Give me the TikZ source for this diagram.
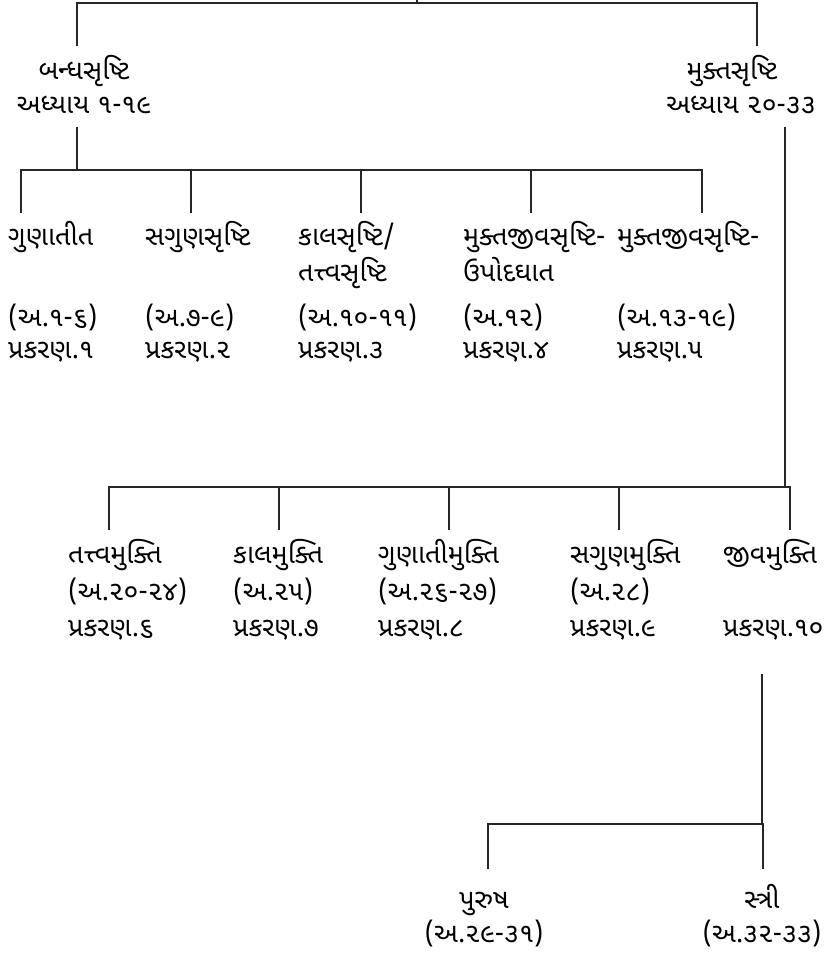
\documentclass[tikz,border=0pt]{standalone}
\usepackage{fontspec}
\newfontfamily\guj[Script=Gujarati]{Noto Sans Gujarati UI}
\begin{document}
\begin{tikzpicture}[x=1pt,y=-1pt,
  ln/.style={line width=1.4pt, draw=black!85, line cap=rect},
  lbl/.style={font=\guj\fontsize{27}{31}\selectfont, inner sep=0pt, anchor=base west},
  clbl/.style={lbl, anchor=base}]
\useasboundingbox (0,0) rectangle (834,960);
% ---------- top level ----------
\node[clbl] (bs1) at (84,80) {બન્ધસૃષ્ટિ};
\node[clbl] (bs2) at (84,114) {અધ્યાય ૧-૧૯};
\node[clbl] (ms1) at (732,80) {મુક્તસૃષ્ટિ};
\node[clbl] (ms2) at (741,114) {અધ્યાય ૨૦-૩૩};
\coordinate (top) at (417,-3);
\coordinate (tbar) at (417,3);
\coordinate (tl) at (77,3);
\coordinate (tr) at (757,3);
\coordinate (tlend) at (77,45);
\coordinate (trend) at (757,45);
\draw[ln] (top) -- (tbar);
\draw[ln] (tlend) -- (tl) -- (tr) -- (trend);
% ---------- row 1 ----------
\coordinate (bsstem) at (77,128);
\coordinate (bsbar) at (77,170);
\draw[ln] (bsstem) -- (bsbar);
\coordinate (r1l) at (21,170);
\coordinate (r1r) at (702,170);
\draw[ln] (r1l) -- (r1r);
\foreach \i/\x in {1/21,2/191,3/361,4/531,5/702}{
  \coordinate (d\i) at (\x,212);
  \draw[ln] (\x,170) -- (d\i);
}
\node[lbl] (a1) at (8,245) {ગુણાતીત};
\node[lbl] (a3) at (8,326) {(અ.૧-૬)};
\node[lbl] (a4) at (8,358) {પ્રકરણ.૧};
\node[lbl] (b1) at (145,245) {સગુણસૃષ્ટિ};
\node[lbl] (b3) at (145,326) {(અ.૭-૯)};
\node[lbl] (b4) at (145,358) {પ્રકરણ.૨};
\node[lbl] (c1) at (298,245) {કાલસૃષ્ટિ/};
\node[lbl] (c2) at (298,281) {તત્ત્વસૃષ્ટિ};
\node[lbl] (c3) at (298,326) {(અ.૧૦-૧૧)};
\node[lbl] (c4) at (298,358) {પ્રકરણ.૩};
\node[lbl] (e1) at (463,245) {મુક્તજીવસૃષ્ટિ-};
\node[lbl] (e2) at (463,281) {ઉપોદઘાત};
\node[lbl] (e3) at (463,326) {(અ.૧૨)};
\node[lbl] (e4) at (463,358) {પ્રકરણ.૪};
\node[lbl] (f1) at (617,245) {મુક્તજીવસૃષ્ટિ-};
\node[lbl] (f3) at (617,326) {(અ.૧૩-૧૯)};
\node[lbl] (f4) at (617,358) {પ્રકરણ.૫};
% ---------- row 2 ----------
\coordinate (msstem) at (785,128);
\coordinate (msbar) at (785,487);
\draw[ln] (msstem) -- (msbar);
\coordinate (r2l) at (109,487);
\coordinate (r2r) at (790,487);
\draw[ln] (r2l) -- (r2r);
\foreach \i/\x in {1/109,2/279,3/449,4/619,5/790}{
  \coordinate (g\i) at (\x,529);
  \draw[ln] (\x,487) -- (g\i);
}
\node[lbl] (h1) at (68,563) {તત્ત્વમુક્તિ};
\node[lbl] (h2) at (68,600) {(અ.૨૦-૨૪)};
\node[lbl] (h3) at (68,636) {પ્રકરણ.૬};
\node[lbl] (i1) at (233,563) {કાલમુક્તિ};
\node[lbl] (i2) at (233,600) {(અ.૨૫)};
\node[lbl] (i3) at (233,636) {પ્રકરણ.૭};
\node[lbl] (j1) at (378,563) {ગુણાતીમુક્તિ};
\node[lbl] (j2) at (378,600) {(અ.૨૬-૨૭)};
\node[lbl] (j3) at (378,636) {પ્રકરણ.૮};
\node[lbl] (k1) at (570,563) {સગુણમુક્તિ};
\node[lbl] (k2) at (570,600) {(અ.૨૮)};
\node[lbl] (k3) at (570,636) {પ્રકરણ.૯};
\node[lbl] (l1) at (723,563) {જીવમુક્તિ};
\node[lbl] (l3) at (723,636) {પ્રકરણ.૧૦};
% ---------- row 3 ----------
\coordinate (jvstem) at (762,675);
\coordinate (jvbar) at (762,824);
\draw[ln] (jvstem) -- (jvbar);
\coordinate (r3l) at (488,824);
\coordinate (r3r) at (763,824);
\draw[ln] (r3l) -- (r3r);
\coordinate (p0) at (488,868);
\coordinate (s0) at (763,868);
\draw[ln] (r3l) -- (p0);
\draw[ln] (r3r) -- (s0);
\node[clbl] (p1) at (484,908) {પુરુષ};
\node[clbl] (p2) at (484,942) {(અ.૨૯-૩૧)};
\node[clbl] (s1) at (762,908) {સ્ત્રી};
\node[clbl] (s2) at (762,942) {(અ.૩૨-૩૩)};
\end{tikzpicture}
\end{document}
